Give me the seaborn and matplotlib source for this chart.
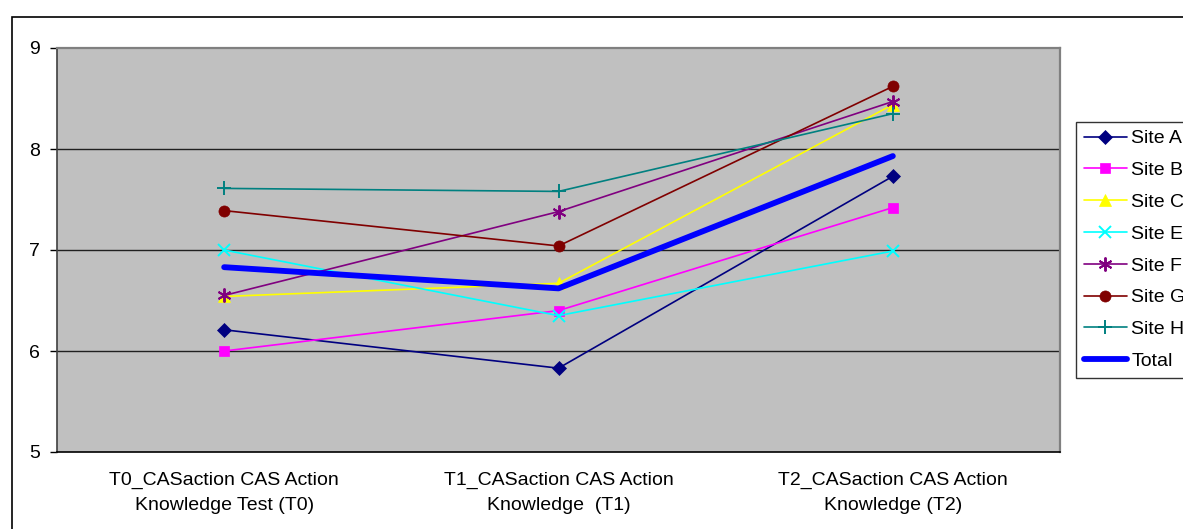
import matplotlib
matplotlib.use('Agg')
import matplotlib.pyplot as plt
import numpy as np
import pandas as pd
import seaborn as sns
from matplotlib.patches import Rectangle
from matplotlib.ticker import FixedLocator

# ─── Data ─────────────────────────────────────────────────────────────────────

categories = [
    'T0_CASaction CAS Action\nKnowledge Test (T0)',
    'T1_CASaction CAS Action\nKnowledge  (T1)',
    'T2_CASaction CAS Action\nKnowledge (T2)',
]
series_names = ['Site A', 'Site B', 'Site C', 'Site E', 'Site F', 'Site G', 'Site H', 'Total']

site_a = [6.21, 5.83, 7.73]
site_b = [6.00, 6.40, 7.42]
site_c = [6.54, 6.67, 8.44]
site_e = [7.00, 6.35, 6.99]
site_f = [6.55, 7.38, 8.47]
site_g = [7.39, 7.04, 8.62]
site_h = [7.61, 7.58, 8.35]
total = [6.83, 6.62, 7.93]

y_ticks = [5, 6, 7, 8, 9]

# ─── Styles ───────────────────────────────────────────────────────────────────

colors = ['#000080', '#FF00FF', '#FFFF00', '#00FFFF', '#800080', '#800000', '#008080', '#0000FF']
markers = ['D', 's', '^', 'x', (6, 2, 0), 'o', '+', None]
msizes = [7, 7, 8, 9, 10, 8, 10, 0]

values = [site_a, site_b, site_c, site_e, site_f, site_g, site_h, total]
df = pd.DataFrame({
    'series': np.repeat(series_names, len(categories)),
    'pos': np.tile(np.arange(len(categories)), len(series_names)),
    'score': np.concatenate(values),
})

sns.set_style('white')
plt.rcParams['font.family'] = ['Liberation Sans', 'DejaVu Sans']
plt.rcParams['text.color'] = 'black'
plt.rcParams['xtick.color'] = 'black'
plt.rcParams['ytick.color'] = 'black'

fig = plt.figure(figsize=(11.83, 5.29), dpi=100)
ax = fig.add_axes([57 / 1183, 1 - 452 / 529, (1060 - 57) / 1183, (452 - 48) / 529])
ax.set_facecolor('#C0C0C0')

# outer chart border (clipped on the right and bottom like the original)
fig.patches.append(Rectangle((12 / 1183, -0.1), 1.2, 1 - 17 / 529 + 0.1,
                             transform=fig.transFigure, fill=False,
                             edgecolor='black', linewidth=1.2))

handles = []
for name, col, mk, ms in zip(series_names, colors, markers, msizes):
    sub = df[df['series'] == name]
    is_total = name == 'Total'
    sns.lineplot(data=sub, x='pos', y='score', ax=ax, color=col,
                 linewidth=4.2 if is_total else 1.2,
                 marker=mk, markersize=ms,
                 markeredgecolor=col, markerfacecolor=col,
                 markeredgewidth=1.4 if mk in ('x', '+', (6, 2, 0)) else 0.5,
                 label=name, legend=False, zorder=4 if is_total else 3)
    handles.append(ax.lines[-1])

ax.set_xlim(-0.5, 2.5)
ax.set_ylim(5, 9)
ax.set_yticks(y_ticks)
ax.set_yticklabels([str(t) for t in y_ticks], fontsize=14)
ax.set_xticks(range(len(categories)))
ax.set_xticklabels(categories, fontsize=14, linespacing=1.65)
ax.xaxis.set_minor_locator(FixedLocator([0.5, 1.5, 2.5]))
ax.tick_params(axis='x', which='major', length=0, pad=14)
ax.tick_params(axis='x', which='minor', length=5, width=1, color='black', direction='out')
ax.tick_params(axis='y', length=5, width=1, color='black', direction='out', pad=7, left=True)
ax.set_xlabel('')
ax.set_ylabel('')

for yv in [6, 7, 8]:
    ax.axhline(yv, color='#202020', linewidth=1.0, zorder=1)

for side in ['top', 'right']:
    ax.spines[side].set_color('#808080')
    ax.spines[side].set_linewidth(1.6)
ax.spines['left'].set_color('#404040')
ax.spines['left'].set_linewidth(1.2)
ax.spines['bottom'].set_color('black')
ax.spines['bottom'].set_linewidth(1.2)

leg = fig.legend(handles, series_names, loc='upper left',
                 bbox_to_anchor=(1076 / 1183, 1 - 122 / 529),
                 fontsize=14, frameon=True, fancybox=False,
                 handlelength=2.2, handletextpad=0.25, labelspacing=0.73,
                 borderpad=0.4, borderaxespad=0)
leg.get_frame().set_edgecolor('black')
leg.get_frame().set_linewidth(1.0)

fig.savefig('out.png', dpi=100)
